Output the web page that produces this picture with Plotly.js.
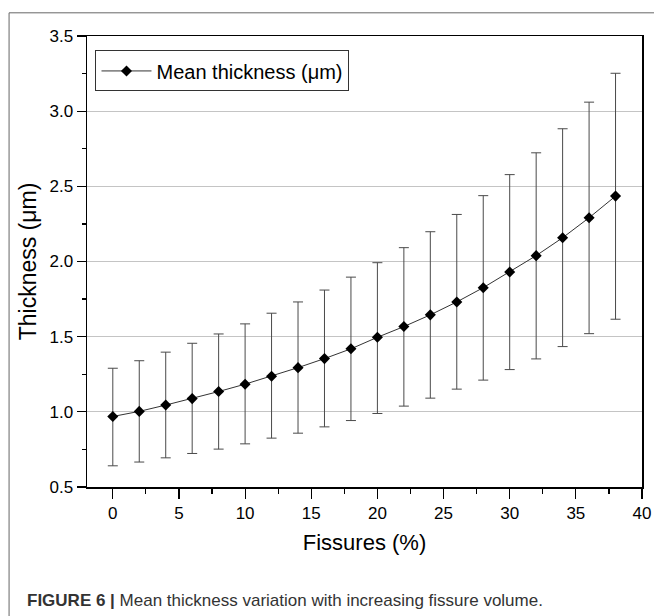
<!DOCTYPE html>
<html>
<head>
<meta charset="utf-8">
<script src="https://cdn.plot.ly/plotly-3.0.1.min.js"></script>
<style>
html,body{margin:0;padding:0;background:#fff;}
#chart{width:654px;height:616px;}
</style>
</head>
<body>
<div id="chart"></div>
<script>
var fissures = [0, 2, 4, 6, 8, 10, 12, 14, 16, 18, 20, 22, 24, 26, 28, 30, 32, 34, 36, 38];
var meanThickness = [0.969, 1.003, 1.045, 1.088, 1.135, 1.184, 1.237, 1.294, 1.354, 1.419, 1.496, 1.567, 1.645, 1.731, 1.826, 1.930, 2.039, 2.158, 2.291, 2.435];
var upperBound = [1.290, 1.340, 1.397, 1.456, 1.518, 1.585, 1.656, 1.731, 1.810, 1.896, 1.992, 2.092, 2.198, 2.313, 2.438, 2.578, 2.723, 2.883, 3.060, 3.252];
var lowerBound = [0.641, 0.666, 0.694, 0.723, 0.752, 0.787, 0.825, 0.858, 0.900, 0.942, 0.989, 1.038, 1.091, 1.151, 1.211, 1.281, 1.352, 1.434, 1.520, 1.616];
var yTickVals = [0.5, 1.0, 1.5, 2.0, 2.5, 3.0, 3.5];
var xTickVals = [0, 5, 10, 15, 20, 25, 30, 35, 40];

var errPlus = meanThickness.map(function(m, i){ return upperBound[i] - m; });
var errMinus = meanThickness.map(function(m, i){ return m - lowerBound[i]; });

var FONT = "Liberation Sans, Arial, sans-serif";

var trace = {
  x: fissures,
  y: meanThickness,
  type: 'scatter',
  mode: 'lines+markers',
  name: 'Mean thickness (\u03bcm)',
  line: {color: '#333333', width: 1},
  marker: {symbol: 'diamond', size: 8.5, color: '#000000'},
  error_y: {
    type: 'data',
    symmetric: false,
    array: errPlus,
    arrayminus: errMinus,
    color: '#4a4a4a',
    thickness: 1,
    width: 5
  }
};

var layout = {
  width: 654,
  height: 616,
  margin: {l: 86.5, r: 12, t: 35.7, b: 129},
  paper_bgcolor: '#ffffff',
  plot_bgcolor: '#ffffff',
  font: {family: FONT, color: '#000000', size: 17},
  showlegend: true,
  legend: {
    x: 0.0153, y: 0.968, xanchor: 'left', yanchor: 'top',
    bordercolor: '#333333', borderwidth: 1, bgcolor: '#ffffff',
    font: {family: FONT, size: 20, color: '#000000'},
    itemwidth: 50
  },
  xaxis: {
    range: [-1.95, 40],
    tickvals: xTickVals,
    ticktext: xTickVals.map(String),
    ticks: 'outside', ticklen: 10, tickwidth: 1.2, tickcolor: '#000',
    minor: {dtick: 2.5, tick0: 0, ticks: 'outside', ticklen: 5, tickwidth: 1.2, tickcolor: '#000', showgrid: false},
    showline: true, linecolor: '#000', linewidth: 1.5, mirror: true,
    showgrid: false, zeroline: false,
    tickfont: {family: FONT, size: 17},
    title: {text: 'Fissures (%)', font: {family: FONT, size: 22}, standoff: 12},
    automargin: false
  },
  yaxis: {
    range: [0.5, 3.5],
    tickvals: yTickVals,
    ticktext: yTickVals.map(function(v){ return v.toFixed(1); }),
    ticks: 'outside', ticklen: 9, tickwidth: 1.2, tickcolor: '#000',
    minor: {dtick: 0.25, tick0: 0.5, ticks: 'outside', ticklen: 4, tickwidth: 1.2, tickcolor: '#000', showgrid: false},
    showline: true, linecolor: '#000', linewidth: 1.5, mirror: true,
    showgrid: true, gridcolor: '#c4c4c4', gridwidth: 1.3,
    zeroline: false,
    tickfont: {family: FONT, size: 17},
    title: {text: 'Thickness (\u03bcm)', font: {family: FONT, size: 23}, standoff: 6},
    automargin: false
  },
  shapes: [
    {type: 'line', xref: 'paper', yref: 'paper', x0: -0.1404, x1: -0.1404, y0: 1.0514, y1: -0.40, line: {color: '#666666', width: 1}},
    {type: 'line', xref: 'paper', yref: 'paper', x0: -0.1404, x1: 1.03, y0: 1.0514, y1: 1.0514, line: {color: '#666666', width: 1}}
  ],
  annotations: [
    {
      xref: 'paper', yref: 'paper', x: -0.1125, y: -0.2526, xanchor: 'left', yanchor: 'middle',
      showarrow: false, align: 'left',
      text: '<b>FIGURE 6 |</b> Mean thickness variation with increasing fissure volume.',
      font: {family: FONT, size: 17, color: '#333333'}
    }
  ]
};

Plotly.newPlot('chart', [trace], layout, {displayModeBar: false, staticPlot: true});
</script>
</body>
</html>
